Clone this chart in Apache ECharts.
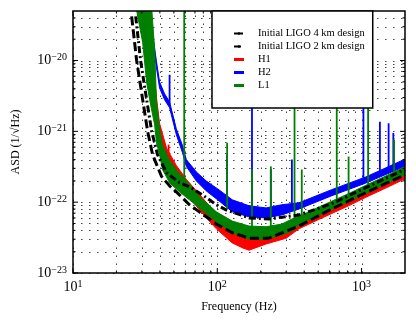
<!DOCTYPE html>
<html>
<head>
<meta charset="utf-8">
<script src="https://cdn.jsdelivr.net/npm/echarts@6/dist/echarts.min.js"></script>
<style>
html, body { margin: 0; padding: 0; background: #fff; }
#main { width: 416px; height: 323px; }
</style>
</head>
<body>
<div id="main"></div>
<script>
// ASD in 1/sqrt(Hz); plotted in units of 1e-23 so the log axis keeps precision
var UNIT = 1e-23;
var X_MIN = 10, X_MAX = 2000, Y_MIN = 1e-23, Y_MAX = 5e-20;
var FONT = 'Liberation Serif';

var xTicks = [10, 100, 1000];
var xMinor = [20, 30, 40, 50, 60, 70, 80, 90, 200, 300, 400, 500, 600, 700, 800, 900];
var yTicks = [1e-23, 1e-22, 1e-21, 1e-20];
var yMinor = [2e-23, 3e-23, 4e-23, 5e-23, 6e-23, 7e-23, 8e-23, 9e-23,
  2e-22, 3e-22, 4e-22, 5e-22, 6e-22, 7e-22, 8e-22, 9e-22,
  2e-21, 3e-21, 4e-21, 5e-21, 6e-21, 7e-21, 8e-21, 9e-21,
  2e-20, 3e-20, 4e-20];

// design curves [Hz, ASD]
var design4km = [[25.5, 4.2e-20], [27.6, 1.0e-20], [30.4, 2.8e-21], [32.9, 1.0e-21], [35.6, 4.7e-22],
  [41.1, 2.3e-22], [46.7, 1.7e-22], [54.7, 1.27e-22], [64.1, 9.2e-23], [75.1, 7.3e-23], [98.5, 4.9e-23],
  [127, 3.7e-23], [166, 3.1e-23], [228, 3.1e-23], [368, 4.6e-23], [620, 8.0e-23], [1070, 1.36e-22],
  [1920, 2.35e-22], [2000, 2.45e-22]];
var design2km = [[27.2, 4.2e-20], [29.4, 1.0e-20], [32.4, 2.8e-21], [35.1, 1.0e-21], [38.5, 4.7e-22],
  [44.5, 2.6e-22], [54.7, 1.88e-22], [64.1, 1.65e-22], [78.8, 1.27e-22], [98.5, 9.2e-23], [115, 7.8e-23],
  [166, 6.0e-23], [228, 5.8e-23], [368, 6.6e-23], [620, 9.5e-23], [1070, 1.6e-22], [1920, 2.8e-22],
  [2000, 2.9e-22]];

// measured spectra: frequency, lower and upper edge of the noise band
var h1Freq = [34.0, 36.8, 37.9, 39.8, 44.5, 52, 61, 75, 98.5, 127, 150, 166, 218, 300, 368, 505, 620, 813,
  1070, 1420, 1920, 2000];
var h1Low = [1.0e-20, 2.8e-21, 1.05e-21, 5.1e-22, 3.4e-22, 1.94e-22, 1.36e-22, 7.8e-23, 4.2e-23, 2.66e-23,
  2.26e-23, 2.1e-23, 2.57e-23, 3.1e-23, 4.2e-23, 5.7e-23, 6.9e-23, 8.9e-23, 1.17e-22, 1.53e-22, 2.05e-22,
  2.13e-22];
var h1High = [8e-20, 5.4e-21, 3.0e-21, 1.3e-21, 5.8e-22, 3.3e-22, 2.1e-22, 1.3e-22, 6.8e-23, 4.3e-23,
  3.7e-23, 3.6e-23, 3.7e-23, 4.06e-23, 5.0e-23, 6.7e-23, 8.1e-23, 1.05e-22, 1.38e-22, 1.8e-22, 2.42e-22,
  2.5e-22];
// lines: [Hz, base, peak]
var h1Lines = [[46, 3.3e-22, 6.5e-22], [345, 4.5e-23, 6.6e-23]];

var h2Freq = [29.0, 31.4, 32.4, 33.4, 35.6, 37.9, 39.8, 43.1, 46.7, 52, 57.4, 61, 71.5, 83.6, 103, 127, 166,
  218, 280, 368, 620, 1070, 1920, 2000];
var h2Low = [8e-20, 4e-20, 2.1e-20, 6e-20, 1.8e-20, 7.9e-21, 4.1e-21, 2.8e-21, 2.16e-21, 9.0e-22, 5.0e-22,
  3.2e-22, 2.0e-22, 1.45e-22, 1.04e-22, 7.3e-23, 6.2e-23, 6.0e-23, 6.6e-23, 8.0e-23, 1.23e-22, 1.86e-22,
  3.1e-22, 3.2e-22];
var h2High = [1.5e-19, 6e-20, 2.8e-20, 1e-19, 2.4e-20, 9.6e-21, 5.0e-21, 3.4e-21, 2.6e-21, 1.09e-21, 6.3e-22,
  4.0e-22, 2.68e-22, 2.0e-22, 1.49e-22, 1.08e-22, 8.9e-23, 8.3e-23, 9.2e-23, 9.8e-23, 1.5e-22, 2.27e-22,
  3.9e-22, 4.0e-22];
var h2Lines = [[46.7, 2.4e-21, 6.3e-21], [117, 1.2e-22, 4.7e-22], [174, 8e-23, 1e-19], [235, 7e-23, 2.9e-22],
  [329, 8e-23, 4.0e-22], [1030, 2e-22, 1e-20], [1340, 2.5e-22, 1.37e-21], [1540, 2.8e-22, 1.3e-21],
  [1660, 3e-22, 9.5e-22]];

var l1Freq = [27.6, 30.4, 32.4, 34.0, 35.1, 36.8, 37.9, 39.8, 41.7, 46.7, 54.7, 64.1, 75.1, 88.1, 98.5, 127,
  166, 218, 280, 330, 368, 505, 620, 813, 1070, 1420, 1920, 2000];
var l1Low = [5.1e-20, 1.8e-20, 4.9e-21, 2.8e-21, 2.0e-21, 1.24e-21, 6.9e-22, 4.7e-22, 2.9e-22, 1.88e-22,
  1.40e-22, 1.08e-22, 8.3e-23, 6.4e-23, 5.3e-23, 3.7e-23, 3.0e-23, 3.0e-23, 3.45e-23, 3.9e-23, 4.8e-23,
  6.5e-23, 7.9e-23, 1.01e-22, 1.33e-22, 1.74e-22, 2.34e-22, 2.43e-22];
var l1High = [1.5e-19, 1.2e-19, 8e-20, 6e-20, 5.5e-20, 1.43e-20, 2.6e-21, 1.1e-21, 6.5e-22, 3.9e-22, 2.5e-22,
  1.8e-22, 1.2e-22, 9.0e-23, 7.3e-23, 5.4e-23, 4.6e-23, 4.5e-23, 4.9e-23, 5.8e-23, 6.3e-23, 8.5e-23,
  1.03e-22, 1.32e-22, 1.73e-22, 2.26e-22, 3.04e-22, 3.15e-22];
var l1Lines = [[59, 2e-22, 1e-19], [117, 8e-23, 6.9e-22], [174, 4e-23, 2.9e-22], [235, 4e-23, 3.2e-22],
  [343, 5e-23, 1e-19], [385, 5.5e-23, 2.9e-22], [673, 1e-22, 5e-21], [813, 1.1e-22, 4.4e-22],
  [1110, 1.5e-22, 5e-21], [1680, 2.2e-22, 7.6e-22]];

function sc(v) { return v / UNIT; }

function powLabel(exp) {
  return '{b|10}{s|' + (exp < 0 ? '\u2212' + (-exp) : exp) + '}';
}
var labelRich = {
  b: { fontFamily: FONT, fontSize: 14, lineHeight: 16, color: '#000', verticalAlign: 'middle' },
  s: { fontFamily: FONT, fontSize: 10, lineHeight: 10, color: '#000', verticalAlign: 'top' }
};

function bandSeries(name, color, freq, low, high, lines) {
  return {
    name: name, type: 'custom', clip: true, z: 2, silent: true,
    itemStyle: { color: color },
    data: [[freq[0], sc(low[0])]],
    renderItem: function (params, api) {
      var upper = [], lower = [];
      for (var i = 0; i < freq.length; i++) {
        upper.push(api.coord([freq[i], sc(high[i])]));
        lower.unshift(api.coord([freq[i], sc(low[i])]));
      }
      var kids = [{
        type: 'polygon', shape: { points: upper.concat(lower) },
        style: { fill: color, stroke: color, lineWidth: 1 }
      }];
      lines.forEach(function (ln) {
        var a = api.coord([ln[0], sc(ln[1])]), b = api.coord([ln[0], sc(ln[2])]);
        kids.push({ type: 'line', shape: { x1: a[0], y1: a[1], x2: b[0], y2: b[1] },
          style: { stroke: color, lineWidth: 1.8 } });
      });
      return { type: 'group', children: kids };
    }
  };
}

function gridSeries() {
  return {
    type: 'custom', silent: true, z: 1, clip: false,
    data: [[X_MIN, sc(Y_MIN)]],
    renderItem: function (params, api) {
      var kids = [];
      xTicks.concat(xMinor).forEach(function (x) {
        var a = api.coord([x, sc(Y_MIN)]), b = api.coord([x, sc(Y_MAX)]);
        var px = Math.round(a[0]) + 0.5;
        kids.push({ type: 'line', shape: { x1: px, y1: a[1], x2: px, y2: b[1] },
          style: { stroke: '#444', lineWidth: 1, lineDash: [1.5, 6.5] } });
      });
      yTicks.concat(yMinor).forEach(function (y) {
        var a = api.coord([X_MIN, sc(y)]), b = api.coord([X_MAX, sc(y)]);
        var py = Math.round(a[1]) + 0.5;
        kids.push({ type: 'line', shape: { x1: a[0], y1: py, x2: b[0], y2: py },
          style: { stroke: '#444', lineWidth: 1, lineDash: [1.5, 6.5] } });
      });
      return { type: 'group', children: kids };
    }
  };
}

function frameSeries() {
  return {
    type: 'custom', silent: true, z: 10, clip: false,
    data: [[X_MIN, sc(Y_MIN)]],
    renderItem: function (params, api) {
      var lt = api.coord([X_MIN, sc(Y_MAX)]), rb = api.coord([X_MAX, sc(Y_MIN)]);
      var kids = [];
      function tick(x1, y1, x2, y2) {
        kids.push({ type: 'line', shape: { x1: x1, y1: y1, x2: x2, y2: y2 },
          style: { stroke: '#000', lineWidth: 1 } });
      }
      xTicks.concat(xMinor).forEach(function (x, i) {
        var len = i < xTicks.length ? 5 : 2.5;
        var px = api.coord([x, sc(Y_MIN)])[0];
        tick(px, rb[1], px, rb[1] - len);
        tick(px, lt[1], px, lt[1] + len);
      });
      yTicks.concat(yMinor).forEach(function (y, i) {
        var len = i < yTicks.length ? 5 : 2.5;
        var py = api.coord([X_MIN, sc(y)])[1];
        tick(lt[0], py, lt[0] + len, py);
        tick(rb[0], py, rb[0] - len, py);
      });
      kids.push({ type: 'rect', shape: { x: lt[0], y: lt[1], width: rb[0] - lt[0], height: rb[1] - lt[1] },
        style: { fill: 'none', stroke: '#000', lineWidth: 1.5 } });
      return { type: 'group', children: kids };
    }
  };
}

function designSeries(name, pts, dash) {
  return {
    name: name, type: 'line', symbol: 'none', showSymbol: false, z: 3, silent: true,
    lineStyle: { color: '#000', width: 3, type: dash },
    itemStyle: { color: '#000' },
    data: pts.map(function (p) { return [p[0], sc(p[1])]; })
  };
}

var chart = echarts.init(document.getElementById('main'));
chart.setOption({
  animation: false,
  backgroundColor: '#fff',
  grid: { left: 73, right: 11, top: 11, bottom: 50 },
  legend: {
    orient: 'vertical', left: 212, top: 11, z: 20,
    backgroundColor: '#fff', borderColor: '#000', borderWidth: 1.5, borderRadius: 0,
    padding: [16, 8, 16, 21],
    itemWidth: 10, itemHeight: 3, itemGap: 0,
    textStyle: { fontFamily: FONT, fontSize: 10.5, color: '#000', lineHeight: 13, padding: [0, 0, 0, 9] },
    data: [
      { name: 'Initial LIGO 4 km design' },
      { name: 'Initial LIGO 2 km design' },
      { name: 'H1', icon: 'rect' },
      { name: 'H2', icon: 'rect' },
      { name: 'L1', icon: 'rect' }
    ]
  },
  xAxis: {
    type: 'log', logBase: 10, min: X_MIN, max: X_MAX,
    axisLine: { show: false }, axisTick: { show: false }, splitLine: { show: false },
    axisLabel: {
      margin: 6, rich: labelRich,
      formatter: function (v) {
        var l = Math.log10(v);
        return Math.abs(l - Math.round(l)) < 1e-6 ? powLabel(Math.round(l)) : '';
      }
    },
    name: 'Frequency (Hz)', nameLocation: 'middle', nameGap: 28,
    nameTextStyle: { fontFamily: FONT, fontSize: 12, color: '#000' }
  },
  yAxis: {
    type: 'log', logBase: 10, min: sc(Y_MIN), max: sc(Y_MAX),
    axisLine: { show: false }, axisTick: { show: false }, splitLine: { show: false },
    axisLabel: {
      margin: 6, rich: labelRich,
      formatter: function (v) {
        var l = Math.log10(v);
        return Math.abs(l - Math.round(l)) < 1e-6 ? powLabel(Math.round(l) - 23) : '';
      }
    },
    name: 'ASD (1/\u221AHz)', nameLocation: 'middle', nameGap: 51,
    nameTextStyle: { fontFamily: FONT, fontSize: 12, color: '#000' }
  },
  series: [
    gridSeries(),
    bandSeries('H1', '#ff0000', h1Freq, h1Low, h1High, h1Lines),
    bandSeries('H2', '#0000ff', h2Freq, h2Low, h2High, h2Lines),
    bandSeries('L1', '#008000', l1Freq, l1Low, l1High, l1Lines),
    designSeries('Initial LIGO 4 km design', design4km, [9, 4]),
    designSeries('Initial LIGO 2 km design', design2km, [7, 3, 2, 3]),
    frameSeries()
  ]
});
</script>
</body>
</html>
